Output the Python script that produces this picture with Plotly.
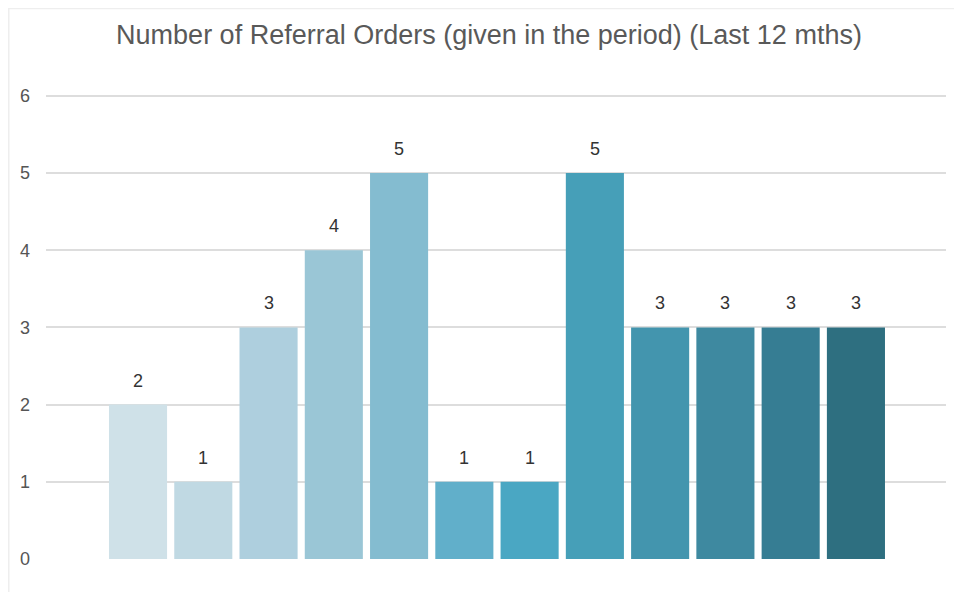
import plotly.graph_objects as go

categories = [f"M{i+1}" for i in range(12)]
values = [2, 1, 3, 4, 5, 1, 1, 5, 3, 3, 3, 3]
colors = ["#cfe1e8", "#c0d9e3", "#aecfde", "#9ac6d6", "#84bcd0", "#61afca",
          "#4aa7c3", "#469fb8", "#4395ae", "#3e89a0", "#367d93", "#2e6f80"]
y_ticks = [0, 1, 2, 3, 4, 5, 6]
title_text = "Number of Referral Orders (given in the period) (Last 12 mths)"

FONT = "Liberation Sans, Arial, sans-serif"

fig = go.Figure()
fig.add_trace(go.Bar(
    x=list(range(len(categories))), y=values,
    marker=dict(color=colors, line=dict(width=0)),
    hoverinfo="y", showlegend=False,
))

for i, v in enumerate(values):
    fig.add_annotation(x=i, y=v, text=str(v), showarrow=False, yshift=24,
                       font=dict(family=FONT, size=18, color="#333333"))

# page is offset by the 8px body margin, so figure coords = page coords - 8
PL, PR, P0 = 38, 938, 551           # plot left, right, y of zero line (figure px)
unit = 463 / 6.0
ymax = 6.05
PT = P0 - ymax * unit
fig.update_layout(
    width=962, height=592,
    margin=dict(l=PL, r=962 - PR, t=PT, b=592 - P0, autoexpand=False),
    paper_bgcolor="white", plot_bgcolor="white",
    bargap=0.11,
    title=dict(text=title_text, x=0.5, xanchor="center", y=1 - 27 / 592, yanchor="middle",
               font=dict(family=FONT, size=27, color="#595959")),
    xaxis=dict(range=[-1.41, 12.38], showticklabels=False, showgrid=False,
               zeroline=False, showline=False, ticks=""),
    yaxis=dict(range=[0, ymax], tickvals=y_ticks, showgrid=True, gridcolor="#dddddd",
               gridwidth=2, zeroline=False, showline=False, ticks="",
               ticklabelstandoff=15, automargin=False,
               tickfont=dict(family=FONT, size=18, color="#555555")),
    font=dict(family=FONT),
)

# outer card border (top and left edges)
W = PR - PL
H = P0 - PT
fig.add_shape(type="line", xref="paper", yref="paper",
              x0=(0 - PL) / W, x1=(962 - PL) / W, y0=(P0 - 0.5) / H, y1=(P0 - 0.5) / H,
              line=dict(color="#eeeeee", width=2))
fig.add_shape(type="line", xref="paper", yref="paper",
              x0=(0.5 - PL) / W, x1=(0.5 - PL) / W, y0=-0.2, y1=(P0 - 0.5) / H,
              line=dict(color="#eeeeee", width=2))

fig.write_html("out.html")
